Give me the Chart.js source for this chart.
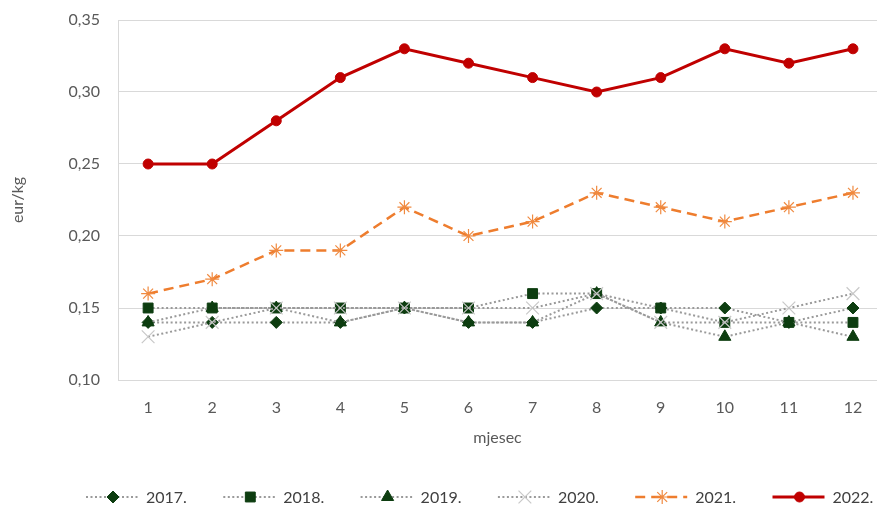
<!DOCTYPE html>
<html>
<head>
<meta charset="utf-8">
<script src="https://cdn.jsdelivr.net/npm/chart.js@4/dist/chart.umd.min.js"></script>
<style>
  html, body { margin: 0; padding: 0; background: #fff; overflow: hidden; }
  canvas { display: block; }
</style>
</head>
<body>
<canvas id="chart" width="877" height="506"></canvas>
<script>
// months on the x axis
const months = [1, 2, 3, 4, 5, 6, 7, 8, 9, 10, 11, 12];
const yTicks = [0.10, 0.15, 0.20, 0.25, 0.30, 0.35];

// eur/kg per year
const y2017 = [0.14, 0.14, 0.14, 0.14, 0.15, 0.14, 0.14, 0.15, 0.15, 0.15, 0.14, 0.15];
const y2018 = [0.15, 0.15, 0.15, 0.15, 0.15, 0.15, 0.16, 0.16, 0.15, 0.14, 0.14, 0.14];
const y2019 = [0.14, 0.15, 0.15, 0.14, 0.15, 0.14, 0.14, 0.16, 0.14, 0.13, 0.14, 0.13];
const y2020 = [0.13, 0.14, 0.15, 0.15, 0.15, 0.15, 0.15, 0.16, 0.14, 0.14, 0.15, 0.16];
const y2021 = [0.16, 0.17, 0.19, 0.19, 0.22, 0.20, 0.21, 0.23, 0.22, 0.21, 0.22, 0.23];
const y2022 = [0.25, 0.25, 0.28, 0.31, 0.33, 0.32, 0.31, 0.30, 0.31, 0.33, 0.32, 0.33];

const FONT = 'Lato, "Open Sans", sans-serif';
const GREEN = '#0d3d10';
const DOTS = '#9a9a9a';

const toPoints = vals => months.map((m, i) => ({ x: m, y: vals[i] }));

function dottedSeries(label, vals, style, radius, order) {
    return {
        label: label,
        data: toPoints(vals),
        borderColor: DOTS,
        borderWidth: 2,
        borderDash: [2, 2.5],
        pointStyle: style,
        pointRadius: radius,
        pointBackgroundColor: GREEN,
        pointBorderColor: GREEN,
        pointBorderWidth: 1,
        order: order
    };
}

const datasets = [
    dottedSeries('2017.', y2017, 'rectRot', 6, 5),
    dottedSeries('2018.', y2018, 'rect', 7, 4),
    dottedSeries('2019.', y2019, 'triangle', 7, 3),
    {
        label: '2020.',
        data: toPoints(y2020),
        borderColor: DOTS,
        borderWidth: 2,
        borderDash: [2, 2.5],
        pointStyle: 'crossRot',
        pointRadius: 9,
        pointBackgroundColor: '#c8c8c8',
        pointBorderColor: '#c8c8c8',
        pointBorderWidth: 1.2,
        order: 2
    },
    {
        label: '2021.',
        data: toPoints(y2021),
        borderColor: '#ee7d2e',
        borderWidth: 2.5,
        borderDash: [10, 6],
        pointStyle: 'star',
        pointRadius: 7,
        pointBackgroundColor: '#ee7d2e',
        pointBorderColor: '#f08a40',
        pointBorderWidth: 1.2,
        order: 1
    },
    {
        label: '2022.',
        data: toPoints(y2022),
        borderColor: '#c00000',
        borderWidth: 3,
        pointStyle: 'circle',
        pointRadius: 5,
        pointBackgroundColor: '#c00000',
        pointBorderColor: '#c00000',
        pointBorderWidth: 1,
        order: 0
    }
];

// legend in one row under the chart, line sample + marker + text
const rowLegend = {
    id: 'rowLegend',
    afterDraw(chart) {
        const ctx = chart.ctx;
        const y = 497;
        chart.data.datasets.forEach((ds, i) => {
            const x0 = 86 + i * 137.3;
            ctx.save();
            ctx.strokeStyle = ds.borderColor;
            ctx.lineWidth = ds.borderWidth;
            ctx.setLineDash(ds.borderDash || []);
            ctx.beginPath();
            ctx.moveTo(x0, y);
            ctx.lineTo(x0 + 52, y);
            ctx.stroke();
            ctx.setLineDash([]);
            ctx.fillStyle = ds.pointBackgroundColor;
            ctx.strokeStyle = ds.pointBorderColor;
            ctx.lineWidth = ds.pointBorderWidth;
            Chart.helpers.drawPoint(ctx, {
                pointStyle: ds.pointStyle,
                radius: ds.pointRadius,
                borderWidth: ds.pointBorderWidth,
                rotation: 0
            }, x0 + 27, y);
            ctx.fillStyle = '#404040';
            ctx.font = '16px ' + FONT;
            ctx.textBaseline = 'middle';
            ctx.fillText(ds.label, x0 + 60, y + 1);
            ctx.restore();
        });
    }
};

new Chart(document.getElementById('chart').getContext('2d'), {
    type: 'line',
    data: { datasets: datasets },
    options: {
        responsive: false,
        animation: false,
        layout: { autoPadding: false, padding: { top: 20, right: 0, bottom: 40, left: 0 } },
        elements: { line: { tension: 0, borderCapStyle: 'butt' } },
        plugins: {
            legend: { display: false },
            tooltip: { enabled: false }
        },
        scales: {
            x: {
                type: 'linear',
                min: 0.53,
                max: 12.375,
                afterBuildTicks: s => { s.ticks = months.map(v => ({ value: v })); },
                afterFit: s => {
                    s.height = 86;
                    s.paddingLeft = 0;
                    s.paddingRight = 0;
                },
                grid: { display: false, drawTicks: false },
                border: { display: false },
                ticks: {
                    padding: 18,
                    color: '#595959',
                    font: { family: FONT, size: 16 },
                    callback: v => String(v)
                },
                title: {
                    display: true,
                    text: 'mjesec',
                    color: '#595959',
                    font: { family: FONT, size: 16 },
                    padding: { top: 0, bottom: 19 }
                }
            },
            y: {
                min: 0.10,
                max: 0.35,
                afterBuildTicks: s => { s.ticks = yTicks.map(v => ({ value: v })); },
                afterFit: s => {
                    s.width = 118;
                    s.paddingTop = 0;
                    s.paddingBottom = 0;
                },
                grid: { color: '#d9d9d9', lineWidth: 1, drawTicks: false },
                border: { display: true, color: '#d9d9d9', width: 1 },
                ticks: {
                    padding: 18,
                    color: '#595959',
                    font: { family: FONT, size: 16 },
                    callback: v => v.toFixed(2).replace('.', ',')
                },
                title: {
                    display: true,
                    text: 'eur/kg',
                    color: '#595959',
                    font: { family: FONT, size: 16 },
                    padding: { top: 8, bottom: 0 }
                }
            }
        }
    },
    plugins: [rowLegend]
});
</script>
</body>
</html>
